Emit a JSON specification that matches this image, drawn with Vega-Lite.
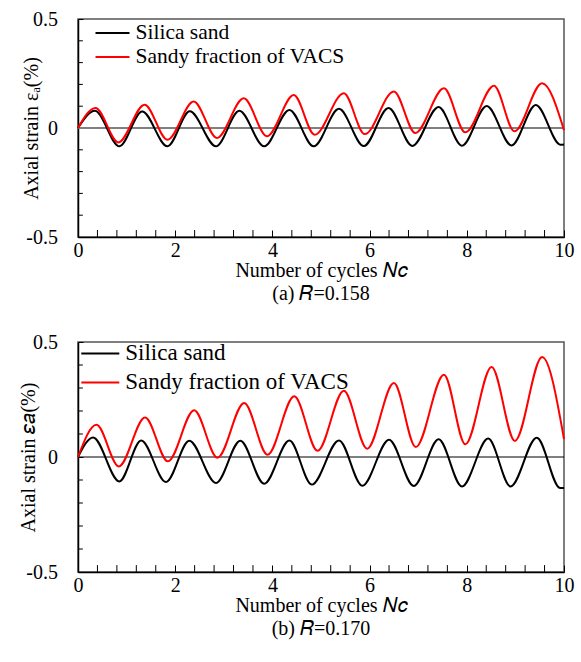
{
  "$schema": "https://vega.github.io/schema/vega-lite/v6.json",
  "padding": {"left": 17, "top": 8, "right": 8, "bottom": 5},
  "bounds": "flush",
  "spacing": 105,
  "datasets": {
    "minory": [{"t": -0.4}, {"t": -0.3}, {"t": -0.2}, {"t": -0.1}, {"t": 0.1}, {"t": 0.2}, {"t": 0.3}, {"t": 0.4}],
    "minorx": [{"m": 0.4}, {"m": 0.8}, {"m": 1.2}, {"m": 1.6}, {"m": 2.4}, {"m": 2.8}, {"m": 3.2}, {"m": 3.6}, {"m": 4.4}, {"m": 4.8}, {"m": 5.2}, {"m": 5.6}, {"m": 6.4}, {"m": 6.8}, {"m": 7.2}, {"m": 7.6}, {"m": 8.4}, {"m": 8.8}, {"m": 9.2}, {"m": 9.6}],
    "a": [
      {"series": "Silica sand", "x": 0, "y": 0},
      {"series": "Silica sand", "x": 0.35, "y": 0.079},
      {"series": "Silica sand", "x": 0.85, "y": -0.084},
      {"series": "Silica sand", "x": 1.32, "y": 0.076},
      {"series": "Silica sand", "x": 1.84, "y": -0.084},
      {"series": "Silica sand", "x": 2.30, "y": 0.077},
      {"series": "Silica sand", "x": 2.84, "y": -0.084},
      {"series": "Silica sand", "x": 3.32, "y": 0.079},
      {"series": "Silica sand", "x": 3.83, "y": -0.084},
      {"series": "Silica sand", "x": 4.35, "y": 0.083},
      {"series": "Silica sand", "x": 4.85, "y": -0.084},
      {"series": "Silica sand", "x": 5.37, "y": 0.088},
      {"series": "Silica sand", "x": 5.88, "y": -0.083},
      {"series": "Silica sand", "x": 6.39, "y": 0.092},
      {"series": "Silica sand", "x": 6.88, "y": -0.082},
      {"series": "Silica sand", "x": 7.42, "y": 0.096},
      {"series": "Silica sand", "x": 7.90, "y": -0.081},
      {"series": "Silica sand", "x": 8.41, "y": 0.101},
      {"series": "Silica sand", "x": 8.92, "y": -0.080},
      {"series": "Silica sand", "x": 9.42, "y": 0.106},
      {"series": "Silica sand", "x": 9.93, "y": -0.077},
      {"series": "Silica sand", "x": 10, "y": -0.076},
      {"series": "Sandy fraction of VACS", "x": 0, "y": 0},
      {"series": "Sandy fraction of VACS", "x": 0.36, "y": 0.092},
      {"series": "Sandy fraction of VACS", "x": 0.83, "y": -0.066},
      {"series": "Sandy fraction of VACS", "x": 1.37, "y": 0.107},
      {"series": "Sandy fraction of VACS", "x": 1.84, "y": -0.054},
      {"series": "Sandy fraction of VACS", "x": 2.38, "y": 0.122},
      {"series": "Sandy fraction of VACS", "x": 2.86, "y": -0.046},
      {"series": "Sandy fraction of VACS", "x": 3.41, "y": 0.136},
      {"series": "Sandy fraction of VACS", "x": 3.89, "y": -0.038},
      {"series": "Sandy fraction of VACS", "x": 4.44, "y": 0.151},
      {"series": "Sandy fraction of VACS", "x": 4.87, "y": -0.031},
      {"series": "Sandy fraction of VACS", "x": 5.47, "y": 0.159},
      {"series": "Sandy fraction of VACS", "x": 5.90, "y": -0.028},
      {"series": "Sandy fraction of VACS", "x": 6.50, "y": 0.168},
      {"series": "Sandy fraction of VACS", "x": 6.94, "y": -0.023},
      {"series": "Sandy fraction of VACS", "x": 7.53, "y": 0.182},
      {"series": "Sandy fraction of VACS", "x": 7.97, "y": -0.020},
      {"series": "Sandy fraction of VACS", "x": 8.56, "y": 0.194},
      {"series": "Sandy fraction of VACS", "x": 8.98, "y": -0.015},
      {"series": "Sandy fraction of VACS", "x": 9.55, "y": 0.205},
      {"series": "Sandy fraction of VACS", "x": 10, "y": -0.010}
    ],
    "b": [
      {"series": "Silica sand", "x": 0, "y": 0},
      {"series": "Silica sand", "x": 0.31, "y": 0.085},
      {"series": "Silica sand", "x": 0.85, "y": -0.106},
      {"series": "Silica sand", "x": 1.30, "y": 0.072},
      {"series": "Silica sand", "x": 1.81, "y": -0.109},
      {"series": "Silica sand", "x": 2.29, "y": 0.071},
      {"series": "Silica sand", "x": 2.84, "y": -0.113},
      {"series": "Silica sand", "x": 3.34, "y": 0.071},
      {"series": "Silica sand", "x": 3.83, "y": -0.116},
      {"series": "Silica sand", "x": 4.35, "y": 0.072},
      {"series": "Silica sand", "x": 4.81, "y": -0.120},
      {"series": "Silica sand", "x": 5.37, "y": 0.072},
      {"series": "Silica sand", "x": 5.85, "y": -0.125},
      {"series": "Silica sand", "x": 6.40, "y": 0.075},
      {"series": "Silica sand", "x": 6.91, "y": -0.126},
      {"series": "Silica sand", "x": 7.42, "y": 0.077},
      {"series": "Silica sand", "x": 7.90, "y": -0.128},
      {"series": "Silica sand", "x": 8.44, "y": 0.080},
      {"series": "Silica sand", "x": 8.90, "y": -0.128},
      {"series": "Silica sand", "x": 9.44, "y": 0.084},
      {"series": "Silica sand", "x": 9.92, "y": -0.135},
      {"series": "Silica sand", "x": 10, "y": -0.135},
      {"series": "Sandy fraction of VACS", "x": 0, "y": 0},
      {"series": "Sandy fraction of VACS", "x": 0.38, "y": 0.140},
      {"series": "Sandy fraction of VACS", "x": 0.84, "y": -0.041},
      {"series": "Sandy fraction of VACS", "x": 1.38, "y": 0.172},
      {"series": "Sandy fraction of VACS", "x": 1.85, "y": -0.019},
      {"series": "Sandy fraction of VACS", "x": 2.39, "y": 0.203},
      {"series": "Sandy fraction of VACS", "x": 2.87, "y": -0.003},
      {"series": "Sandy fraction of VACS", "x": 3.42, "y": 0.235},
      {"series": "Sandy fraction of VACS", "x": 3.90, "y": 0.010},
      {"series": "Sandy fraction of VACS", "x": 4.45, "y": 0.264},
      {"series": "Sandy fraction of VACS", "x": 4.93, "y": 0.027},
      {"series": "Sandy fraction of VACS", "x": 5.47, "y": 0.288},
      {"series": "Sandy fraction of VACS", "x": 5.95, "y": 0.036},
      {"series": "Sandy fraction of VACS", "x": 6.50, "y": 0.322},
      {"series": "Sandy fraction of VACS", "x": 6.95, "y": 0.043},
      {"series": "Sandy fraction of VACS", "x": 7.53, "y": 0.358},
      {"series": "Sandy fraction of VACS", "x": 7.97, "y": 0.055},
      {"series": "Sandy fraction of VACS", "x": 8.51, "y": 0.391},
      {"series": "Sandy fraction of VACS", "x": 8.99, "y": 0.070},
      {"series": "Sandy fraction of VACS", "x": 9.55, "y": 0.435},
      {"series": "Sandy fraction of VACS", "x": 10, "y": 0.078}
    ]
  },
  "vconcat": [
    {
      "width": 486,
      "height": 218,
      "title": {"text": "(a)  𝑅=0.158", "orient": "bottom", "offset": 4},
      "layer": [
        {
          "data": {"values": [{}]},
          "mark": {"type": "rule", "color": "#7f7f7f", "strokeWidth": 2},
          "encoding": {"y": {"datum": 0, "type": "quantitative"}}
        },
        {
          "data": {"name": "minory"},
          "mark": {"type": "rule", "color": "#000000", "strokeWidth": 1},
          "encoding": {
            "y": {"field": "t", "type": "quantitative", "title": "Axial strain εₐ(%)"},
            "x": {"datum": 0, "type": "quantitative"},
            "x2": {"datum": 0.1}
          }
        },
        {
          "data": {"name": "minorx"},
          "mark": {"type": "rule", "color": "#000000", "strokeWidth": 1},
          "encoding": {
            "x": {"field": "m", "type": "quantitative", "title": "Number of cycles 𝑁𝑐"},
            "y": {"datum": -0.5, "type": "quantitative"},
            "y2": {"datum": -0.468}
          }
        },
        {
          "data": {"name": "a"},
          "mark": {"type": "line", "interpolate": "monotone", "strokeWidth": 2},
          "encoding": {
            "x": {
              "field": "x", "type": "quantitative",
              "title": "Number of cycles 𝑁𝑐",
              "scale": {"domain": [0, 10], "nice": false, "zero": false},
              "axis": {
                "values": [0, 2, 4, 6, 8, 10],
                "labelExpr": "format(datum.value, 'd')",
                "labelOverlap": false,
                "titleX": 243, "titleY": 33
              }
            },
            "y": {
              "field": "y", "type": "quantitative",
              "title": "Axial strain εₐ(%)",
              "scale": {"domain": [-0.5, 0.5], "nice": false},
              "axis": {
                "values": [-0.5, 0, 0.5],
                "labelExpr": "datum.value < -0.1 ? '-0.5' : datum.value > 0.1 ? '0.5' : '0'",
                "labelOverlap": false,
                "titleX": -47, "titleY": 109
              }
            },
            "color": {
              "field": "series", "type": "nominal",
              "scale": {"domain": ["Silica sand", "Sandy fraction of VACS"], "range": ["#000000", "#ff0000"]},
              "legend": {
                "title": null, "orient": "none", "legendX": 16.5, "legendY": 2,
                "symbolType": "stroke", "symbolSize": 1156, "symbolStrokeWidth": 2,
                "labelFontSize": 21.5, "labelOffset": 5, "clipHeight": 24,
                "rowPadding": 0, "padding": 0, "labelLimit": 400
              }
            }
          }
        }
      ]
    },
    {
      "width": 486,
      "height": 230,
      "title": {"text": "(b)  𝑅=0.170", "orient": "bottom", "offset": 4},
      "layer": [
        {
          "data": {"values": [{}]},
          "mark": {"type": "rule", "color": "#000000", "strokeWidth": 1},
          "encoding": {"y": {"datum": 0, "type": "quantitative"}}
        },
        {
          "data": {"name": "minory"},
          "mark": {"type": "rule", "color": "#000000", "strokeWidth": 1},
          "encoding": {
            "y": {"field": "t", "type": "quantitative", "title": "Axial strain 𝜀𝑎(%)"},
            "x": {"datum": 0, "type": "quantitative"},
            "x2": {"datum": 0.1}
          }
        },
        {
          "data": {"name": "minorx"},
          "mark": {"type": "rule", "color": "#000000", "strokeWidth": 1},
          "encoding": {
            "x": {"field": "m", "type": "quantitative", "title": "Number of cycles 𝑁𝑐"},
            "y": {"datum": -0.5, "type": "quantitative"},
            "y2": {"datum": -0.47}
          }
        },
        {
          "data": {"name": "b"},
          "mark": {"type": "line", "interpolate": "monotone", "strokeWidth": 2},
          "encoding": {
            "x": {
              "field": "x", "type": "quantitative",
              "title": "Number of cycles 𝑁𝑐",
              "scale": {"domain": [0, 10], "nice": false, "zero": false},
              "axis": {
                "values": [0, 2, 4, 6, 8, 10],
                "labelExpr": "format(datum.value, 'd')",
                "labelOverlap": false,
                "titleX": 243, "titleY": 33
              }
            },
            "y": {
              "field": "y", "type": "quantitative",
              "title": "Axial strain 𝜀𝑎(%)",
              "scale": {"domain": [-0.5, 0.5], "nice": false},
              "axis": {
                "values": [-0.5, 0, 0.5],
                "labelExpr": "datum.value < -0.1 ? '-0.5' : datum.value > 0.1 ? '0.5' : '0'",
                "labelOverlap": false,
                "titleX": -50, "titleY": 115
              }
            },
            "color": {
              "field": "series", "type": "nominal",
              "scale": {"domain": ["Silica sand", "Sandy fraction of VACS"], "range": ["#000000", "#ff0000"]},
              "legend": {
                "title": null, "orient": "none", "legendX": 2.3, "legendY": -2.8,
                "symbolType": "stroke", "symbolSize": 1444, "symbolStrokeWidth": 2,
                "labelFontSize": 23, "labelOffset": 5, "clipHeight": 28.5,
                "rowPadding": 0, "padding": 0, "labelLimit": 400
              }
            }
          }
        }
      ]
    }
  ],
  "resolve": {"legend": {"color": "independent"}, "scale": {"color": "independent"}},
  "config": {
    "font": "Liberation Serif",
    "view": {"stroke": "#555555", "strokeWidth": 1.5},
    "title": {"font": "Liberation Serif", "fontSize": 20, "fontWeight": "normal", "color": "#000000"},
    "axis": {
      "grid": false,
      "labelFont": "Liberation Serif", "labelFontSize": 20, "labelColor": "#000000",
      "labelOverlap": false, "labelFlush": false,
      "titleFont": "Liberation Serif", "titleFontSize": 20, "titleFontWeight": "normal", "titleColor": "#000000",
      "titleBaseline": "middle",
      "domainColor": "#000000", "domainWidth": 1.5,
      "tickColor": "#000000", "tickWidth": 1
    },
    "axisX": {"tickSize": -7, "labelPadding": 10},
    "axisY": {"tickSize": -5, "labelPadding": 25.5, "titleAngle": -90},
    "legend": {"labelFont": "Liberation Serif", "labelColor": "#000000"}
  }
}
